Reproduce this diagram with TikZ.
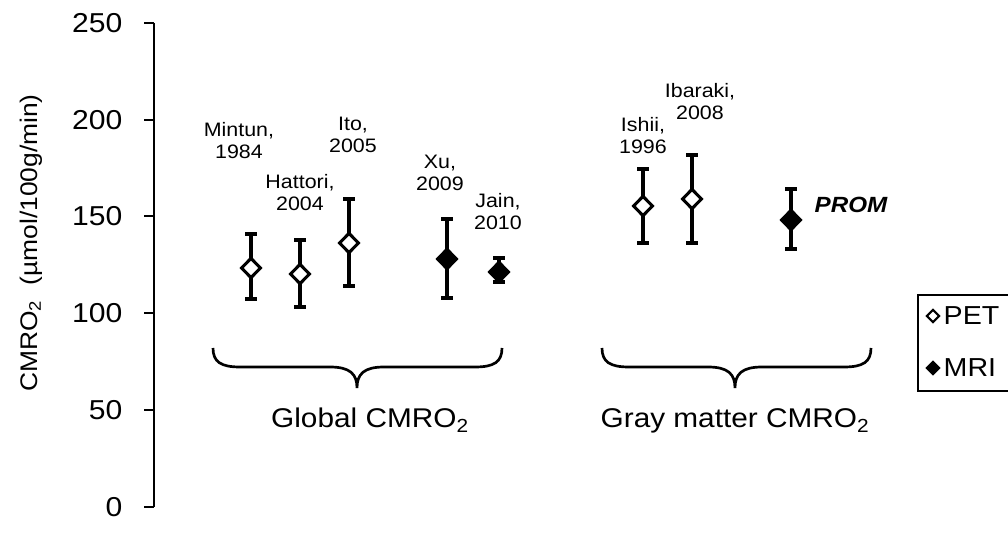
\documentclass[tikz,border=0pt]{standalone}
\usepackage{fontspec}
\setmainfont{Liberation Sans}[FakeStretch=1.1]
\usetikzlibrary{shapes.geometric}
\begin{document}
\begin{tikzpicture}[x=0.75pt,y=-0.75pt,
  bar/.style={line width=2.5pt},
  pet/.style={diamond, draw, line width=2.3pt, fill=white, minimum width=15pt, minimum height=15.5pt, inner sep=0pt},
  mri/.style={pet, fill=black},
  lpet/.style={diamond, draw, line width=1.6pt, fill=white, minimum width=10pt, minimum height=10pt, inner sep=0pt},
  lmri/.style={lpet, fill=black},
  lab/.style={font=\fontsize{14.6}{16.5}\selectfont, align=center},
  tick/.style={font=\fontsize{20.5}{23}\selectfont},
  grp/.style={font=\fontsize{20.3}{24}\selectfont},
  leg/.style={font=\fontsize{19.5}{22}\selectfont},
  brace/.style={line width=2pt}]
\clip (0,0) rectangle (1008,538);
% axis
\draw[line width=2.2pt] (154,23) -- (154,507);
\foreach \v/\y in {0/507,50/410,100/313,150/216,200/120,250/23}{
  \draw[line width=2.2pt] (144,\y) -- (154,\y);
  \node[tick, anchor=east] (t\v) at (127,\y) {\v};
}
\node[rotate=90, font=\fontsize{18}{21}\selectfont] (ylab) at (31,243) {CMRO\textsubscript{2}\ \ (µmol/100g/min)};
% error bars and points
\foreach \n/\x/\c/\t/\b/\s in {mintun/251/268/234/299/pet, hattori/300/274/240/307/pet, ito/349/243/199/286/pet, xu/447/259/219/298/mri, jain/499/272/258/282/mri, ishii/643/206/169/243/pet, ibaraki/692/199/155/243/pet, prom/791/220/189/249/mri}{
  \draw[bar] (\x,\t) -- (\x,\b);
  \draw[bar] (\x-6,\t) -- (\x+6,\t);
  \draw[bar] (\x-6,\b) -- (\x+6,\b);
  \node[\s] (\n) at (\x,\c) {};
}
% labels
\node[lab] (lmintun) at (239,141) {Mintun,\\1984};
\node[lab] (lhattori) at (300,193) {Hattori,\\2004};
\node[lab] (lito) at (353,135) {Ito,\\2005};
\node[lab] (lxu) at (440,173) {Xu,\\2009};
\node[lab] (ljain) at (498,212) {Jain,\\2010};
\node[lab] (lishii) at (643,136) {Ishii,\\1996};
\node[lab] (libaraki) at (700,102) {Ibaraki,\\2008};
\node[font=\fontsize{16.5}{19}\selectfont\bfseries\itshape, anchor=west] (lprom) at (810,205) {PROM};
% braces
\draw[brace] (213,348) .. controls (213,362) and (221,367) .. (240,367) -- (330,367) .. controls (350,367) and (357,374) .. (357,388) .. controls (357,374) and (364,367) .. (384,367) -- (475,367) .. controls (494,367) and (502,362) .. (502,348);
\draw[brace] (602,348) .. controls (602,362) and (610,367) .. (629,367) -- (708,367) .. controls (728,367) and (735,374) .. (735,388) .. controls (735,374) and (742,367) .. (762,367) -- (844,367) .. controls (863,367) and (871,362) .. (871,348);
\node[grp, anchor=base] (gglob) at (370,428) {Global CMRO\textsubscript{2}};
\node[grp, anchor=base] (ggray) at (735,428) {Gray matter CMRO\textsubscript{2}};
% legend
\draw[line width=0.8pt] (918,295) rectangle (1040,391);
\node[lpet] (legpet) at (933,316) {};
\node[lmri] (legmri) at (933,368) {};
\node[leg, anchor=west] (tpet) at (939,316) {PET};
\node[leg, anchor=west] (tmri) at (939,368) {MRI};
\end{tikzpicture}
\end{document}
